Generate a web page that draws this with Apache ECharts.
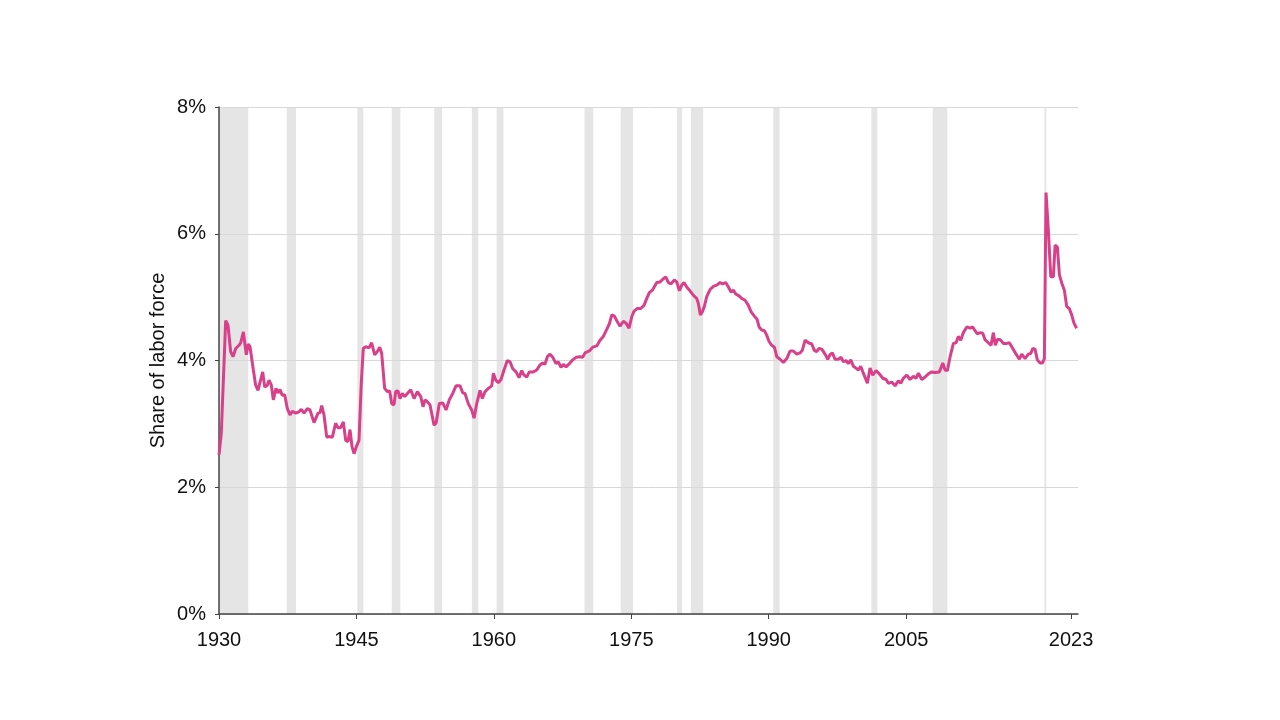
<!DOCTYPE html>
<html>
<head>
<meta charset="utf-8">
<script src="https://cdn.jsdelivr.net/npm/echarts@6/dist/echarts.min.js"></script>
<style>
html,body{margin:0;padding:0;background:#fff;}
#chart{width:1280px;height:720px;}
</style>
</head>
<body>
<div id="chart"></div>
<script>
// Years (fractional) and share of labor force (%)
const years = [
1930.0,1930.25,1930.73,1930.98,1931.27,1931.53,1931.82,1932.18,1932.37,1932.66,1932.8,1932.98,1933.2,1933.38,1933.75,1934.0,1934.26,1934.48,1934.77,1934.99,
1935.27,1935.46,1935.71,1935.93,1936.22,1936.44,1936.66,1936.91,1937.17,1937.46,1937.75,1938.0,1938.37,1938.73,1938.98,1939.28,1939.64,1939.93,1940.37,1940.55,
1940.81,1941.03,1941.21,1941.46,1941.76,1942.0,1942.37,1942.73,1942.99,1943.28,1943.57,1943.83,1944.08,1944.3,1944.52,1944.74,1944.99,1945.28,1945.53,1945.75,
1946.01,1946.37,1946.66,1946.99,1947.28,1947.54,1947.76,1948.08,1948.37,1948.63,1948.85,1949.1,1949.29,1949.54,1949.76,1950.01,1950.27,1950.56,1950.93,1951.29,
1951.65,1952.02,1952.27,1952.49,1952.74,1953.03,1953.47,1953.69,1954.05,1954.42,1954.78,1955.14,1955.51,1955.87,1956.31,1956.6,1956.85,1957.21,1957.58,1957.84,
1958.13,1958.49,1958.74,1959.04,1959.4,1959.77,1959.95,1960.2,1960.49,1960.78,1961.11,1961.47,1961.77,1962.06,1962.42,1962.75,1963.04,1963.29,1963.59,1963.87,
1964.31,1964.68,1965.04,1965.33,1965.58,1965.84,1966.13,1966.43,1966.79,1967.04,1967.33,1967.58,1967.88,1968.24,1968.61,1968.97,1969.41,1969.7,1969.95,1970.42,
1970.79,1971.23,1971.59,1971.95,1972.32,1972.61,1972.87,1973.16,1973.48,1973.77,1974.13,1974.43,1974.76,1975.05,1975.3,1975.66,1976.03,1976.39,1976.69,1976.97,
1977.3,1977.78,1978.14,1978.5,1978.76,1979.05,1979.34,1979.7,1979.96,1980.25,1980.51,1980.76,1981.05,1981.41,1981.77,1982.14,1982.32,1982.54,1982.76,1982.97,
1983.24,1983.6,1983.96,1984.33,1984.69,1984.98,1985.31,1985.6,1985.89,1986.14,1986.4,1986.76,1987.05,1987.42,1987.78,1988.07,1988.43,1988.73,1988.95,1989.24,
1989.53,1989.78,1990.04,1990.33,1990.62,1990.88,1991.24,1991.6,1991.97,1992.33,1992.69,1993.06,1993.42,1993.67,1993.97,1994.33,1994.7,1994.98,1995.24,1995.49,
1995.79,1996.15,1996.44,1996.69,1996.95,1997.24,1997.6,1997.9,1998.15,1998.44,1998.69,1998.96,1999.24,1999.53,1999.79,2000.04,2000.33,2000.77,2001.06,2001.36,
2001.72,2002.08,2002.45,2002.81,2003.06,2003.43,2003.79,2004.15,2004.41,2004.7,2005.07,2005.43,2005.79,2006.08,2006.34,2006.71,2007.07,2007.43,2007.8,2008.16,
2008.63,2009.0,2009.25,2009.5,2009.8,2010.16,2010.45,2010.7,2010.96,2011.25,2011.62,2011.98,2012.27,2012.52,2012.77,2013.07,2013.36,2013.61,2013.97,2014.27,
2014.52,2014.74,2014.96,2015.25,2015.61,2015.98,2016.27,2016.64,2017.0,2017.36,2017.62,2017.98,2018.34,2018.6,2018.82,2019.07,2019.32,2019.62,2019.87,2020.09,
2020.27,2020.52,2020.79,2021.07,2021.26,2021.51,2021.73,2021.99,2022.27,2022.53,2022.81,2023.07,2023.32,2023.61
];
const shares = [
2.51,2.85,4.63,4.56,4.14,4.06,4.19,4.24,4.28,4.45,4.45,4.09,4.26,4.22,3.85,3.61,3.53,3.66,3.82,3.58,
3.61,3.69,3.61,3.38,3.56,3.49,3.54,3.45,3.46,3.24,3.14,3.20,3.17,3.19,3.23,3.17,3.24,3.22,3.02,3.01,
3.17,3.18,3.29,3.14,2.79,2.80,2.79,3.01,2.94,2.94,3.03,2.74,2.72,2.91,2.64,2.53,2.64,2.74,3.64,4.19,
4.22,4.20,4.28,4.09,4.14,4.21,4.11,3.56,3.51,3.52,3.32,3.30,3.51,3.52,3.40,3.48,3.43,3.48,3.54,3.40,
3.51,3.43,3.27,3.38,3.35,3.30,2.98,3.01,3.32,3.33,3.22,3.38,3.48,3.60,3.60,3.49,3.48,3.32,3.22,3.09,
3.32,3.53,3.40,3.51,3.56,3.60,3.80,3.69,3.65,3.70,3.85,4.00,3.98,3.87,3.82,3.73,3.84,3.77,3.74,3.82,
3.82,3.85,3.93,3.96,3.94,4.06,4.10,4.05,3.95,3.98,3.89,3.94,3.90,3.95,4.01,4.05,4.06,4.05,4.12,4.15,
4.21,4.23,4.32,4.38,4.49,4.58,4.72,4.70,4.61,4.54,4.62,4.59,4.51,4.69,4.78,4.82,4.82,4.87,4.98,5.07,
5.11,5.23,5.24,5.29,5.32,5.23,5.21,5.27,5.24,5.10,5.19,5.23,5.16,5.10,5.03,4.98,4.90,4.72,4.77,4.85,
5.01,5.12,5.17,5.19,5.23,5.21,5.23,5.16,5.08,5.11,5.05,5.02,4.98,4.95,4.87,4.77,4.70,4.65,4.53,4.48,
4.47,4.40,4.30,4.24,4.21,4.06,4.02,3.97,4.03,4.15,4.15,4.10,4.12,4.16,4.32,4.28,4.26,4.16,4.14,4.19,
4.18,4.10,4.02,4.09,4.12,4.02,4.02,4.05,3.98,4.00,3.95,4.01,3.91,3.88,3.85,3.91,3.80,3.64,3.88,3.77,
3.84,3.79,3.72,3.70,3.64,3.66,3.60,3.68,3.64,3.72,3.77,3.70,3.75,3.72,3.80,3.70,3.74,3.79,3.82,3.81,
3.82,3.96,3.85,3.84,4.06,4.27,4.28,4.38,4.32,4.44,4.53,4.51,4.53,4.47,4.42,4.44,4.43,4.33,4.28,4.24,
4.44,4.24,4.33,4.33,4.27,4.27,4.28,4.19,4.10,4.02,4.10,4.03,4.10,4.11,4.19,4.18,4.01,3.96,3.96,4.03,
6.65,6.06,5.32,5.32,5.82,5.79,5.35,5.22,5.11,4.85,4.82,4.72,4.59,4.51
];
// Recession periods (start, end) as fractional years
const recessionStarts = [1930.0,1937.4,1945.1,1948.85,1953.5,1957.6,1960.3,1969.9,1973.85,1980.0,1981.5,1990.5,2001.2,2007.9,2020.1];
const recessionEnds   = [1933.2,1938.4,1945.75,1949.8,1954.35,1958.3,1961.05,1970.85,1975.2,1980.55,1982.85,1991.2,2001.85,2009.5,2020.3];
const xTickYears = [1930,1945,1960,1975,1990,2005,2023];
const yTicks = [0,2,4,6,8];

const lineData = years.map((y,i)=>[y, shares[i]]);
const areas = recessionStarts.map((s,i)=>[{xAxis:s},{xAxis:recessionEnds[i]}]);

const chart = echarts.init(document.getElementById('chart'));
const font = 'Helvetica, "Liberation Sans", Arial, sans-serif';
chart.setOption({
  animation:false,
  backgroundColor:'#fff',
  grid:{left:219,right:202,top:107,bottom:106,containLabel:false},
  xAxis:{
    type:'value',min:1930,max:2023.76,z:2,
    splitLine:{show:false},
    axisLine:{show:true,lineStyle:{color:'#444',width:1.5}},
    axisTick:{show:true,length:5,lineStyle:{color:'#444'},customValues:xTickYears},
    axisLabel:{color:'#111',fontSize:20,fontFamily:font,margin:16,customValues:xTickYears,formatter:v=>String(v)}
  },
  yAxis:{
    type:'value',min:0,max:8,interval:2,z:2,
    name:'Share of labor force',nameLocation:'middle',nameGap:51,nameMoveOverlap:false,
    nameTextStyle:{color:'#111',fontSize:20,fontFamily:font},
    axisLine:{show:true,lineStyle:{color:'#444',width:1.5}},
    axisTick:{show:true,length:4,lineStyle:{color:'#444'}},
    axisLabel:{color:'#111',fontSize:20,fontFamily:font,margin:13,formatter:v=>v+'%'},
    splitLine:{show:true,lineStyle:{color:'#d8d8d8',width:1}}
  },
  series:[{
    type:'line',data:[],showSymbol:false,silent:true,z:1,
    markArea:{silent:true,itemStyle:{color:'#e5e5e5'},data:areas}
  },{
    type:'line',data:lineData,showSymbol:false,symbol:'none',
    lineStyle:{color:'#d9408a',width:3},
    itemStyle:{color:'#d9408a'},
    z:3
  }]
});
</script>
</body>
</html>
